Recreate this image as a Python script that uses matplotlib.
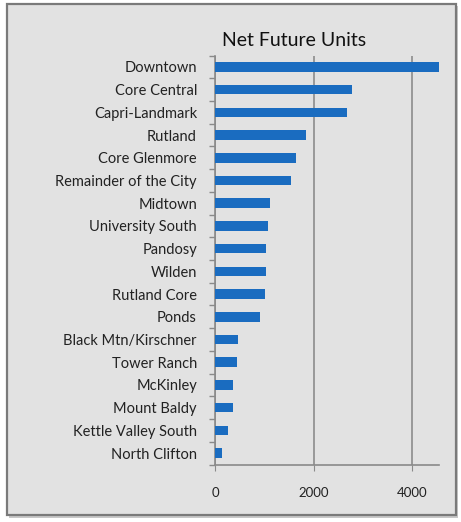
import matplotlib.pyplot as plt
from matplotlib.patches import Rectangle
import numpy as np

plt.rcParams['font.family'] = ['Lato', 'DejaVu Sans']

areas = ['Downtown', 'Core Central', 'Capri-Landmark', 'Rutland', 'Core Glenmore',
         'Remainder of the City', 'Midtown', 'University South', 'Pandosy', 'Wilden',
         'Rutland Core', 'Ponds', 'Black Mtn/Kirschner', 'Tower Ranch', 'McKinley',
         'Mount Baldy', 'Kettle Valley South', 'North Clifton']
units = [4530, 2775, 2670, 1840, 1640, 1540, 1105, 1070, 1040, 1040,
         1005, 910, 470, 440, 370, 370, 255, 148]
x_ticks = [0, 2000, 4000]

bg = '#e2e2e2'
fig = plt.figure(figsize=(4.61, 5.22), dpi=100)
fig.patch.set_facecolor('white')

# chart frame with a soft shadow, like the pasted office chart
fig.patches.append(Rectangle((9 / 461, 1 - 518 / 522), 449 / 461, 512 / 522,
                             transform=fig.transFigure, facecolor='#c8c8c8',
                             edgecolor='none', zorder=-2))
fig.patches.append(Rectangle((7 / 461, 1 - 515 / 522), 449 / 461, 511 / 522,
                             transform=fig.transFigure, facecolor=bg,
                             edgecolor='#7a7a7a', linewidth=1.6, zorder=-1))

ax = fig.add_axes([215 / 461, 1 - 464.5 / 522, 224 / 461, 409 / 522])
ax.set_facecolor(bg)
ax.patch.set_alpha(0)

y = np.arange(len(areas))
ax.barh(y, units, height=0.42, color='#1a6cc0', zorder=3)
ax.set_ylim(len(areas) - 0.5, -0.5)
ax.set_xlim(0, 4540)

ax.set_yticks(y)
ax.set_yticklabels(areas, fontsize=10.5, color='#222222')
ax.set_yticks(np.arange(len(areas) + 1) - 0.5, minor=True)
ax.tick_params(axis='y', which='major', length=0, pad=13)
ax.tick_params(axis='y', which='minor', length=4, color='#8a8a8a', width=1)

ax.set_xticks(x_ticks)
ax.set_xticklabels([str(v) for v in x_ticks], fontsize=9.5, color='#222222')
ax.tick_params(axis='x', length=4, color='#8a8a8a', pad=12)

ax.grid(axis='x', color='#8c8c8c', linewidth=1.2, zorder=1)
for side in ['top', 'right']:
    ax.spines[side].set_visible(False)
for side in ['left', 'bottom']:
    ax.spines[side].set_color('#8a8a8a')
    ax.spines[side].set_linewidth(1.2)

fig.text(294 / 461, 1 - 40 / 522, 'Net Future Units', fontsize=14,
         ha='center', va='center', color='#111111')

plt.savefig('out.png', dpi=100, facecolor=fig.get_facecolor())
